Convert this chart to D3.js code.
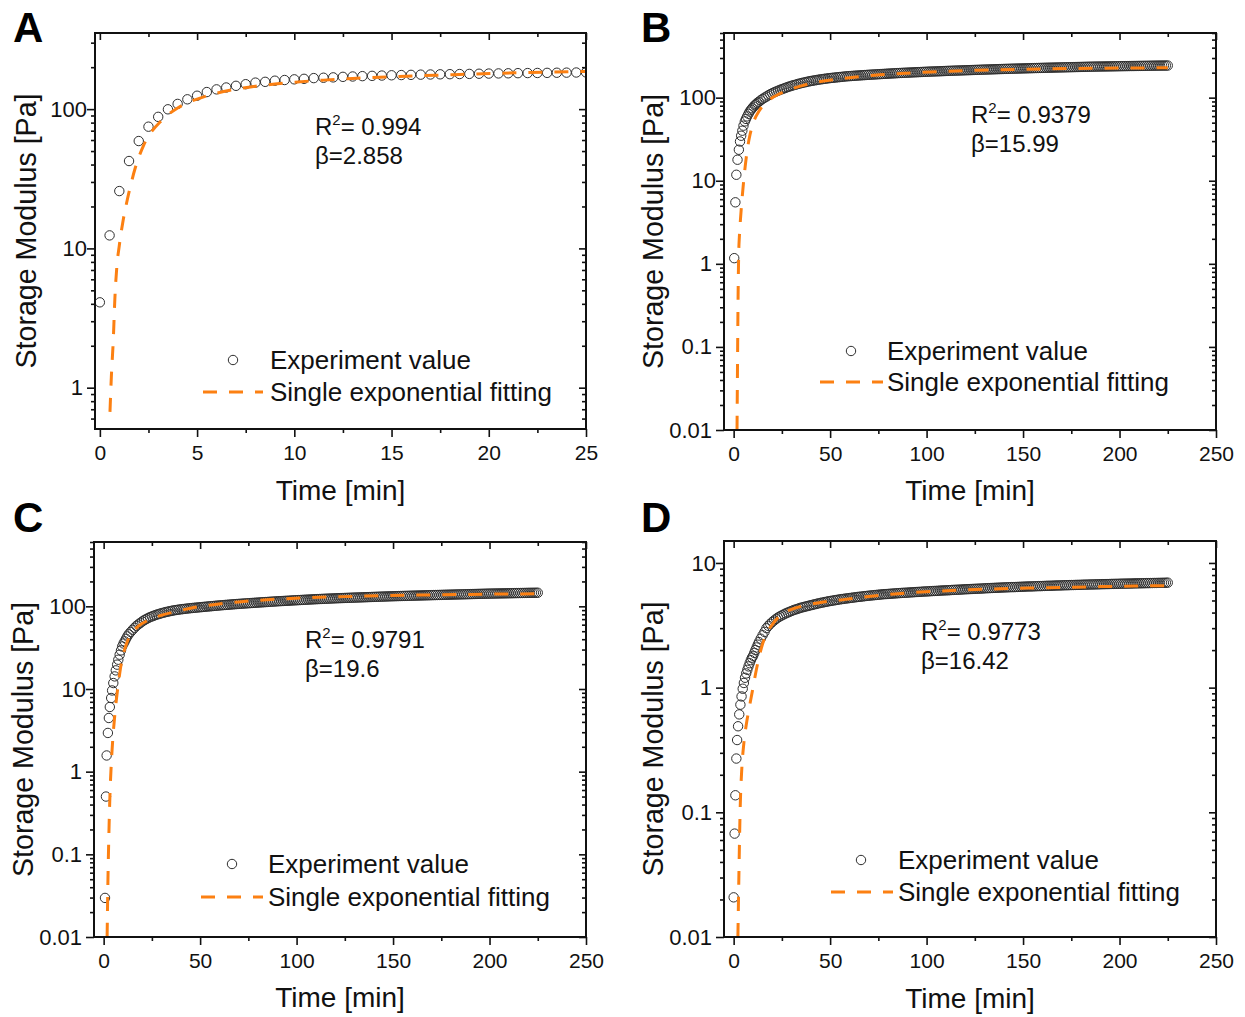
<!DOCTYPE html>
<html>
<head>
<meta charset="utf-8">
<script src="https://cdn.jsdelivr.net/npm/d3@7"></script>
<style>
  html, body { margin: 0; padding: 0; background: #ffffff; }
  svg { display: block; font-family: "Liberation Sans", Arial, Helvetica, sans-serif; }
</style>
</head>
<body>
<svg id="chart" width="1245" height="1017"></svg>
<script>
// ---------- Panel A: gelation over 25 min ----------
const timeA = [0, 0.5, 1, 1.5, 2, 2.5, 3, 3.5, 4, 4.5, 5, 5.5, 6, 6.5, 7, 7.5, 8, 8.5, 9, 9.5,
  10, 10.5, 11, 11.5, 12, 12.5, 13, 13.5, 14, 14.5, 15, 15.5, 16, 16.5, 17, 17.5, 18, 18.5, 19, 19.5,
  20, 20.5, 21, 21.5, 22, 22.5, 23, 23.5, 24, 24.5, 25];
const storageA = [4.1, 12.4, 25.8, 42.4, 59, 74.8, 88, 99.7, 109, 117.6, 124.8, 132.6, 138.6, 143, 147, 151, 155, 157, 160, 161.8,
  163.6, 165, 167, 168, 169, 170.5, 171.5, 172.5, 173.3, 174.2, 175, 175.6, 176.2, 176.8, 177.3, 177.8, 178.2, 178.6, 179, 179.5,
  180, 180.4, 180.8, 181.2, 181.5, 181.8, 182.1, 182.5, 182.8, 183.2, 183.6];
const fitTimeA = [0.52, 0.59, 0.69, 0.77, 0.88, 1.0, 1.2, 1.4, 1.6, 1.8, 2.0, 2.25, 2.6, 3.1, 3.5, 4.0, 4.5, 5.0, 5.8, 7.0,
  8.0, 9.0, 10, 11.5, 13, 15.4, 17.5, 19.7, 22, 24.2, 25];
const fitA = [0.67, 1.19, 2.2, 4.3, 7.6, 10.5, 16, 22, 29, 37, 45, 55, 67, 81, 91, 102, 111, 118, 128, 139,
  146, 151.5, 156, 161.5, 166, 171.5, 175.5, 179.6, 183, 185.5, 186.3];

// ---------- Panels B-D: 225 min runs, one reading per minute after 14 min ----------
const lateTime = [14, 15, 16, 17, 18, 19, 20, 21, 22, 23, 24, 25, 26, 27, 28, 29, 30, 31, 32, 33,
  34, 35, 36, 37, 38, 39, 40, 41, 42, 43, 44, 45, 46, 47, 48, 49, 50, 51, 52, 53,
  54, 55, 56, 57, 58, 59, 60, 61, 62, 63, 64, 65, 66, 67, 68, 69, 70, 71, 72, 73,
  74, 75, 76, 77, 78, 79, 80, 81, 82, 83, 84, 85, 86, 87, 88, 89, 90, 91, 92, 93,
  94, 95, 96, 97, 98, 99, 100, 101, 102, 103, 104, 105, 106, 107, 108, 109, 110, 111, 112, 113,
  114, 115, 116, 117, 118, 119, 120, 121, 122, 123, 124, 125, 126, 127, 128, 129, 130, 131, 132, 133,
  134, 135, 136, 137, 138, 139, 140, 141, 142, 143, 144, 145, 146, 147, 148, 149, 150, 151, 152, 153,
  154, 155, 156, 157, 158, 159, 160, 161, 162, 163, 164, 165, 166, 167, 168, 169, 170, 171, 172, 173,
  174, 175, 176, 177, 178, 179, 180, 181, 182, 183, 184, 185, 186, 187, 188, 189, 190, 191, 192, 193,
  194, 195, 196, 197, 198, 199, 200, 201, 202, 203, 204, 205, 206, 207, 208, 209, 210, 211, 212, 213,
  214, 215, 216, 217, 218, 219, 220, 221, 222, 223, 224, 225];

// Panel B
const earlyTimeB = [0.3, 0.9, 1.4, 2.0, 2.7, 3.3, 3.9, 4.5, 5.1, 5.8, 6.4, 7.0, 7.7, 8.3, 9.0, 9.6, 10.3, 11.0, 11.6, 12.3, 13.0];
const earlyStorageB = [1.17, 5.5, 11.8, 17.9, 23.6, 29.7, 34.8, 40, 46, 51.8, 55.5, 59.5, 64, 68, 71.5, 74.5, 78, 81, 83.5, 86.5, 89];
const lateStorageB = [93, 96.5, 100, 103, 106.5, 110, 113, 116, 118.5, 121,
  124, 126.5, 129, 131.5, 134, 136.5, 139, 141, 143, 145.5,
  147.5, 149.5, 151.5, 153, 155, 157, 158.5, 160, 161.5, 163,
  164.5, 166, 167, 168.5, 169.5, 171, 172, 173, 174, 175,
  176, 177, 178, 179, 180, 181, 181.5, 182.2, 183, 183.7,
  184.4, 185, 185.7, 186.4, 187, 187.7, 188.5, 189, 189.6, 190.2,
  190.8, 191.4, 192, 192.6, 193.2, 193.8, 194.5, 195, 195.6, 196.2,
  196.8, 197.4, 198, 198.5, 199, 199.5, 200, 200.5, 201, 201.5,
  202, 202.5, 203, 203.5, 204, 204.5, 205, 205.5, 206, 206.4,
  206.8, 207.2, 207.6, 208, 208.5, 209, 209.5, 210, 210.4, 210.8,
  211.2, 211.6, 212, 212.4, 212.8, 213.2, 213.6, 214, 214.4, 214.8,
  215.2, 215.6, 216, 216.4, 216.8, 217.2, 217.6, 218, 218.4, 218.8,
  219.2, 219.6, 220, 220.4, 220.8, 221.2, 221.6, 222, 222.3, 222.6,
  223, 223.3, 223.6, 224, 224.3, 224.6, 225, 225.3, 225.6, 226,
  226.3, 226.6, 227, 227.3, 227.6, 228, 228.3, 228.6, 228.9, 229.2,
  229.5, 229.8, 230.1, 230.4, 230.7, 231, 231.3, 231.6, 231.9, 232.2,
  232.5, 232.8, 233.1, 233.4, 233.7, 234, 234.3, 234.6, 234.9, 235.2,
  235.5, 235.8, 236.1, 236.4, 236.6, 236.8, 237, 237.2, 237.4, 237.6,
  237.8, 238, 238.2, 238.4, 238.6, 238.8, 239, 239.2, 239.4, 239.6,
  239.8, 240, 240.2, 240.4, 240.6, 240.8, 241, 241.2, 241.4, 241.6,
  241.8, 242, 242.2, 242.4, 242.6, 242.8, 243, 243.1, 243.2, 243.3,
  243.4, 243.5];
const fitTimeB = [1.75, 1.9, 2.06, 2.3, 2.58, 3.0, 3.4, 4.0, 5.0, 6.0, 7.0, 8.5, 10.2, 13, 18, 24, 30, 42, 57.5, 73,
  88.6, 102, 125, 150, 175, 200, 225];
const fitB = [0.01, 0.03, 0.09, 0.4, 1.2, 2.2, 3.1, 4.8, 8.9, 15, 23, 36, 50, 68, 92, 112, 127, 152, 171, 186,
  196, 204, 213, 219.5, 224, 227, 229];

// Panel C
const earlyTimeC = [0.7, 1.2, 1.55, 2.2, 2.7, 3.2, 3.9, 4.4, 5.0, 5.7, 6.3, 7.0, 7.6, 8.3, 9.0, 9.6, 10.3, 10.9, 11.6, 12.3, 13.0];
const earlyStorageC = [0.0297, 0.5, 1.57, 2.94, 4.46, 6.06, 7.78, 9.6, 11.8, 14.2, 16.8, 19.7, 22.6, 26, 29.3, 32.7, 35.5, 37.7, 40.5, 43.3, 46];
const lateStorageC = [49, 52, 55, 58, 60.5, 63, 65.5, 68, 70, 72,
  74, 75.5, 77, 78.5, 80, 81.3, 82.5, 83.8, 85, 86,
  87, 88, 89, 89.8, 90.5, 91.3, 92, 92.6, 93.2, 93.8,
  94.4, 95, 95.5, 96, 96.5, 97, 97.5, 98, 98.5, 99,
  99.5, 100, 100.5, 101, 101.5, 102, 102.5, 103, 103.4, 103.9,
  104.3, 104.8, 105.2, 105.7, 106.1, 106.6, 107, 107.4, 107.8, 108.2,
  108.6, 109, 109.4, 109.8, 110.2, 110.6, 111, 111.4, 111.8, 112.2,
  112.6, 113, 113.4, 113.8, 114.2, 114.6, 115, 115.4, 115.7, 116,
  116.4, 116.7, 117, 117.4, 117.8, 118.2, 118.5, 118.9, 119.2, 119.6,
  119.9, 120.3, 120.6, 121, 121.3, 121.7, 122, 122.3, 122.6, 122.9,
  123.2, 123.5, 123.8, 124.1, 124.4, 124.7, 125, 125.3, 125.5, 125.8,
  126, 126.3, 126.5, 126.8, 127, 127.3, 127.5, 127.8, 128, 128.3,
  128.5, 128.8, 129, 129.3, 129.5, 129.8, 130, 130.3, 130.5, 130.8,
  131, 131.3, 131.5, 131.8, 132, 132.3, 132.5, 132.7, 132.9, 133.1,
  133.3, 133.5, 133.7, 133.9, 134.1, 134.3, 134.5, 134.7, 134.9, 135.1,
  135.3, 135.5, 135.7, 135.9, 136.1, 136.3, 136.5, 136.7, 136.9, 137.1,
  137.3, 137.5, 137.7, 137.9, 138.1, 138.3, 138.5, 138.7, 138.9, 139.1,
  139.3, 139.5, 139.7, 139.9, 140.1, 140.3, 140.5, 140.7, 140.9, 141.1,
  141.3, 141.5, 141.7, 141.9, 142.1, 142.3, 142.5, 142.6, 142.8, 142.9,
  143.1, 143.2, 143.4, 143.5, 143.7, 143.8, 144, 144.1, 144.3, 144.4,
  144.6, 144.7, 144.9, 145, 145.2, 145.3, 145.5, 145.6, 145.7, 145.8,
  145.9, 146];
const fitTimeC = [1.8, 2.2, 2.7, 3.3, 4.0, 4.8, 5.7, 6.7, 7.7, 9.0, 10.5, 12, 13.4, 15.7, 18, 22.6, 30, 38, 48, 58.8,
  70, 84.6, 105, 130, 160, 190, 225];
const fitC = [0.01, 0.045, 0.17, 0.55, 1.3, 2.6, 4.6, 7.8, 12, 19.5, 28, 36, 43, 51, 57.5, 67, 78, 87, 98, 106,
  113, 120, 127, 132, 136.5, 139.5, 142];

// Panel D
const earlyTimeD = [0, 0.5, 0.9, 1.4, 1.8, 2.3, 2.9, 3.5, 4.1, 4.7, 5.3, 5.9, 6.5, 7.1, 7.7, 8.3, 8.9, 9.5, 10.1, 10.7, 11.3, 11.9, 12.5, 13.1];
const earlyStorageD = [0.0208, 0.0675, 0.137, 0.27, 0.38, 0.49, 0.61, 0.73, 0.85, 0.98, 1.09, 1.2, 1.3, 1.39, 1.48, 1.57, 1.66, 1.74, 1.8, 1.9, 2.0, 2.1, 2.21, 2.32];
const lateStorageD = [2.47, 2.63, 2.8, 3.0, 3.13, 3.25, 3.36, 3.46, 3.56, 3.65,
  3.73, 3.8, 3.87, 3.94, 4.0, 4.06, 4.12, 4.18, 4.23, 4.28,
  4.33, 4.38, 4.42, 4.46, 4.5, 4.54, 4.58, 4.62, 4.66, 4.7,
  4.74, 4.78, 4.81, 4.85, 4.88, 4.92, 4.95, 4.98, 5.01, 5.04,
  5.07, 5.1, 5.13, 5.15, 5.18, 5.2, 5.23, 5.25, 5.28, 5.3,
  5.33, 5.35, 5.37, 5.39, 5.42, 5.44, 5.46, 5.48, 5.5, 5.52,
  5.54, 5.56, 5.58, 5.6, 5.62, 5.63, 5.64, 5.66, 5.67, 5.69,
  5.7, 5.72, 5.73, 5.75, 5.76, 5.77, 5.78, 5.8, 5.81, 5.82,
  5.84, 5.85, 5.86, 5.87, 5.89, 5.9, 5.91, 5.92, 5.94, 5.95,
  5.96, 5.97, 5.98, 6.0, 6.01, 6.02, 6.03, 6.04, 6.05, 6.07,
  6.08, 6.09, 6.1, 6.11, 6.12, 6.14, 6.15, 6.16, 6.17, 6.18,
  6.19, 6.2, 6.21, 6.22, 6.23, 6.24, 6.26, 6.27, 6.28, 6.29,
  6.3, 6.31, 6.32, 6.33, 6.34, 6.35, 6.36, 6.37, 6.38, 6.39,
  6.4, 6.4, 6.41, 6.42, 6.43, 6.44, 6.45, 6.46, 6.47, 6.48,
  6.48, 6.49, 6.5, 6.51, 6.52, 6.52, 6.53, 6.54, 6.55, 6.56,
  6.56, 6.57, 6.58, 6.59, 6.6, 6.6, 6.61, 6.62, 6.63, 6.63,
  6.64, 6.65, 6.65, 6.66, 6.67, 6.67, 6.68, 6.69, 6.7, 6.7,
  6.71, 6.72, 6.72, 6.73, 6.74, 6.74, 6.75, 6.76, 6.76, 6.77,
  6.77, 6.78, 6.79, 6.79, 6.8, 6.8, 6.81, 6.82, 6.82, 6.83,
  6.83, 6.84, 6.84, 6.85, 6.86, 6.86, 6.87, 6.87, 6.88, 6.88,
  6.89, 6.89, 6.9, 6.9, 6.91, 6.91, 6.92, 6.92, 6.93, 6.93,
  6.94, 6.95];
const fitTimeD = [2.2, 2.7, 3.4, 4.2, 5.3, 6.5, 8.0, 9.6, 12, 14.4, 17, 20, 24.6, 30, 36.6, 45, 57, 70, 83.5, 103.6,
  130, 160, 190, 225];
const fitD = [0.01, 0.03, 0.11, 0.22, 0.36, 0.5, 0.68, 0.92, 1.45, 2.09, 2.7, 3.2, 3.85, 4.25, 4.55, 4.82, 5.08, 5.38, 5.64, 5.92,
  6.15, 6.32, 6.46, 6.58];

// ---------- ticks and labels ----------
const xTicksA = [0, 5, 10, 15, 20, 25];
const xMinorA = [2.5, 7.5, 12.5, 17.5, 22.5];
const xTicksLong = [0, 50, 100, 150, 200, 250];
const xMinorLong = [25, 75, 125, 175, 225];
const yTicksA = [1, 10, 100];
const yTicksBC = [0.01, 0.1, 1, 10, 100];
const yTicksD = [0.01, 0.1, 1, 10];
const panelLetters = ["A", "B", "C", "D"];
const r2Values = ["0.994", "0.9379", "0.9791", "0.9773"];
const betaValues = ["2.858", "15.99", "19.6", "16.42"];
const legendLabels = ["Experiment value", "Single exponential fitting"];
const xTitle = "Time [min]";
const yTitle = "Storage Modulus [Pa]";

// ---------- drawing ----------
const FIT_COLOR = "#fc8012";
const MARK_COLOR = "#2e2e2e";
const svg = d3.select("#chart");

const panels = [
  { time: timeA, g: storageA, fitT: fitTimeA, fitG: fitA,
    xDomain: [-0.25, 25], yDomain: [0.505, 352], xTicks: xTicksA, xMinor: xMinorA, yTicks: yTicksA,
    box: { l: 95, r: 586, t: 33, b: 429 }, letter: [13, 42], yTitleX: 36, xTitleY: 500,
    note: [315, 135], legend: { cx: 233, row1: 360, row2: 392, lx0: 203, lx1: 263, tx: 270 } },
  { time: earlyTimeB.concat(lateTime), g: earlyStorageB.concat(lateStorageB), fitT: fitTimeB, fitG: fitB,
    xDomain: [-5, 250], yDomain: [0.01, 600], xTicks: xTicksLong, xMinor: xMinorLong, yTicks: yTicksBC,
    box: { l: 724, r: 1216, t: 33, b: 430 }, letter: [641, 42], yTitleX: 663, xTitleY: 500,
    note: [971, 123], legend: { cx: 851, row1: 351, row2: 382, lx0: 820, lx1: 883, tx: 887 } },
  { time: earlyTimeC.concat(lateTime), g: earlyStorageC.concat(lateStorageC), fitT: fitTimeC, fitG: fitC,
    xDomain: [-5, 250], yDomain: [0.01, 600], xTicks: xTicksLong, xMinor: xMinorLong, yTicks: yTicksBC,
    box: { l: 94, r: 586, t: 542, b: 937 }, letter: [13, 532], yTitleX: 33, xTitleY: 1007,
    note: [305, 648], legend: { cx: 232, row1: 864, row2: 897, lx0: 201, lx1: 263, tx: 268 } },
  { time: earlyTimeD.concat(lateTime), g: earlyStorageD.concat(lateStorageD), fitT: fitTimeD, fitG: fitD,
    xDomain: [-5, 250], yDomain: [0.01, 15], xTicks: xTicksLong, xMinor: xMinorLong, yTicks: yTicksD,
    box: { l: 724, r: 1216, t: 541, b: 937 }, letter: [641, 532], yTitleX: 663, xTitleY: 1008,
    note: [921, 640], legend: { cx: 861, row1: 860, row2: 892, lx0: 831, lx1: 893, tx: 898 } }
];

const fmt = d => String(d);

panels.forEach((p, i) => {
  const b = p.box;
  const x = d3.scaleLinear().domain(p.xDomain).range([b.l, b.r]);
  const y = d3.scaleLog().domain(p.yDomain).range([b.b, b.t]);
  const g = svg.append("g");

  const clipId = "clip" + i;
  g.append("clipPath").attr("id", clipId)
    .append("rect").attr("x", b.l).attr("y", b.t).attr("width", b.r - b.l).attr("height", b.b - b.t);

  const yMinor = y.ticks(40).filter(v => !p.yTicks.some(t => Math.abs(Math.log10(v) - Math.log10(t)) < 1e-6));

  // axes: outward ticks on bottom/left, inward mirror ticks on top/right
  const styleAxis = size => sel => {
    sel.select(".domain").remove();
    sel.selectAll("line").attr("stroke", "#111").attr("stroke-width", 1.6);
    sel.selectAll("text").attr("fill", "#111").attr("font-size", size)
      .attr("font-family", '"Liberation Sans", Arial, sans-serif');
  };
  g.append("g").attr("transform", `translate(0,${b.b})`)
    .call(d3.axisBottom(x).tickValues(p.xTicks).tickFormat(fmt).tickSize(8).tickPadding(8)).call(styleAxis(21));
  g.append("g").attr("transform", `translate(0,${b.b})`)
    .call(d3.axisBottom(x).tickValues(p.xMinor).tickFormat("").tickSize(4)).call(styleAxis(21));
  g.append("g").attr("transform", `translate(0,${b.t})`)
    .call(d3.axisTop(x).tickValues(p.xTicks).tickFormat("").tickSize(-7)).call(styleAxis(21));
  g.append("g").attr("transform", `translate(0,${b.t})`)
    .call(d3.axisTop(x).tickValues(p.xMinor).tickFormat("").tickSize(-4)).call(styleAxis(21));

  // left labels: multi-digit decades sit against the tick, single-digit and decimal ones a little further out
  g.append("g").attr("transform", `translate(${b.l},0)`)
    .call(d3.axisLeft(y).tickValues(p.yTicks).tickFormat(fmt).tickSize(8)).call(styleAxis(22))
    .call(sel => sel.selectAll(".tick text").attr("x", d => -(8 + (d >= 10 ? 0 : 4))));
  g.append("g").attr("transform", `translate(${b.l},0)`)
    .call(d3.axisLeft(y).tickValues(yMinor).tickFormat("").tickSize(4)).call(styleAxis(22));
  g.append("g").attr("transform", `translate(${b.r},0)`)
    .call(d3.axisRight(y).tickValues(p.yTicks).tickFormat("").tickSize(-7)).call(styleAxis(22));
  g.append("g").attr("transform", `translate(${b.r},0)`)
    .call(d3.axisRight(y).tickValues(yMinor).tickFormat("").tickSize(-4)).call(styleAxis(22));

  // experiment values
  const pts = p.time.map((t, k) => [t, p.g[k]]);
  g.append("g").attr("clip-path", `url(#${clipId})`)
    .selectAll("circle").data(pts).join("circle")
    .attr("cx", d => x(d[0])).attr("cy", d => y(d[1])).attr("r", 4.7)
    .attr("fill", "none").attr("stroke", MARK_COLOR).attr("stroke-width", 1);

  // single exponential fit
  const fitPts = p.fitT.map((t, k) => [t, p.fitG[k]]);
  g.append("path").datum(fitPts).attr("clip-path", `url(#${clipId})`)
    .attr("d", d3.line().x(d => x(d[0])).y(d => y(d[1])).curve(d3.curveMonotoneX))
    .attr("fill", "none").attr("stroke", FIT_COLOR).attr("stroke-width", 3)
    .attr("stroke-dasharray", "14,12");

  // frame
  g.append("rect").attr("x", b.l).attr("y", b.t).attr("width", b.r - b.l).attr("height", b.b - b.t)
    .attr("fill", "none").attr("stroke", "#111").attr("stroke-width", 2);

  // axis titles
  g.append("text").attr("x", (b.l + b.r) / 2).attr("y", p.xTitleY)
    .attr("text-anchor", "middle").attr("font-size", 28).attr("fill", "#111").text(xTitle);
  g.append("text").attr("transform", `translate(${p.yTitleX},${(b.t + b.b) / 2}) rotate(-90)`)
    .attr("text-anchor", "middle").attr("font-size", 28.6).attr("fill", "#111").text(yTitle);

  // panel letter
  g.append("text").attr("x", p.letter[0]).attr("y", p.letter[1])
    .attr("font-size", 42).attr("font-weight", "bold").attr("fill", "#000").text(panelLetters[i]);

  // fit statistics
  const r2 = g.append("text").attr("x", p.note[0]).attr("y", p.note[1]).attr("font-size", 24).attr("fill", "#111");
  r2.append("tspan").text("R");
  r2.append("tspan").attr("font-size", 15).attr("dy", -10).text("2");
  r2.append("tspan").attr("dy", 10).text("= " + r2Values[i]);
  g.append("text").attr("x", p.note[0]).attr("y", p.note[1] + 29).attr("font-size", 24).attr("fill", "#111")
    .text("\u03B2=" + betaValues[i]);

  // legend
  const L = p.legend;
  g.append("circle").attr("cx", L.cx).attr("cy", L.row1).attr("r", 4.7)
    .attr("fill", "none").attr("stroke", MARK_COLOR).attr("stroke-width", 1);
  g.append("line").attr("x1", L.lx0).attr("x2", L.lx1).attr("y1", L.row2).attr("y2", L.row2)
    .attr("stroke", FIT_COLOR).attr("stroke-width", 3).attr("stroke-dasharray", "14,12");
  g.append("text").attr("x", L.tx).attr("y", L.row1 + 9).attr("font-size", 26).attr("fill", "#111").text(legendLabels[0]);
  g.append("text").attr("x", L.tx).attr("y", L.row2 + 9).attr("font-size", 26).attr("fill", "#111").text(legendLabels[1]);
});
</script>
</body>
</html>
